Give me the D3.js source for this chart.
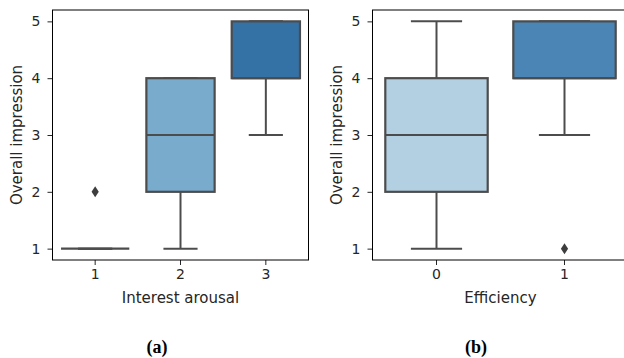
<!DOCTYPE html>
<html>
<head>
<meta charset="utf-8">
<script src="https://cdnjs.cloudflare.com/ajax/libs/d3/7.8.5/d3.min.js"></script>
<style>
  body { margin: 0; background: #fff; }
  svg { display: block; }
  .axis-label { font-family: "DejaVu Sans", sans-serif; font-size: 15px; fill: #262626; }
  .caption { font-family: "Liberation Serif", serif; font-size: 18px; font-weight: bold; fill: #000; }
</style>
</head>
<body>
<div id="chart"></div>
<script>
// panel (a): Interest arousal
const arousalCats = ["1", "2", "3"];
const arousalQ1 = [1, 2, 4];
const arousalMedian = [1, 3, 4];
const arousalQ3 = [1, 4, 5];
const arousalLow = [1, 1, 3];
const arousalHigh = [1, 4, 5];
const arousalOutliers = [[2], [], []];
const arousalColors = ["#d0e1f0", "#79abcd", "#3471a5"];

// panel (b): Efficiency
const efficiencyCats = ["0", "1"];
const efficiencyQ1 = [2, 4];
const efficiencyMedian = [3, 4];
const efficiencyQ3 = [4, 5];
const efficiencyLow = [1, 3];
const efficiencyHigh = [5, 5];
const efficiencyOutliers = [[], [1]];
const efficiencyColors = ["#b3cfe2", "#4a85b5"];

const yTicks = [1, 2, 3, 4, 5];

const svg = d3.select("#chart").append("svg")
  .attr("width", 624)
  .attr("height", 358);

const lineColor = "#4c4c4c";

function styleAxis(axisG) {
  axisG.select(".domain").remove();
  axisG.selectAll(".tick line").attr("stroke", "#262626").attr("stroke-width", 1);
  axisG.selectAll(".tick text")
    .style("font-family", '"DejaVu Sans", sans-serif')
    .style("font-size", "14px")
    .style("fill", "#262626");
}

function boxPanel(offsetX, cats, q1, med, q3, lo, hi, outl, colors, xLabel) {
  const margin = { left: 52.5, top: 10, width: 256, height: 250 };
  const g = svg.append("g").attr("transform", `translate(${offsetX},0)`);

  const x = d3.scaleBand()
    .domain(cats)
    .range([margin.left, margin.left + margin.width])
    .paddingInner(0.2)
    .paddingOuter(0.1);
  const y = d3.scaleLinear()
    .domain([0.8, 5.2])
    .range([margin.top + margin.height, margin.top]);

  const rows = cats.map((c, i) => ({
    cat: c, q1: q1[i], med: med[i], q3: q3[i], lo: lo[i], hi: hi[i],
    out: outl[i], color: colors[i]
  }));

  const bw = x.bandwidth();
  const cx = (d) => x(d.cat) + bw / 2;

  const boxes = g.append("g").selectAll("g").data(rows).join("g");

  // whiskers
  boxes.append("line")
    .attr("x1", cx).attr("x2", cx)
    .attr("y1", (d) => y(d.q1)).attr("y2", (d) => y(d.lo))
    .attr("stroke", lineColor).attr("stroke-width", 2);
  boxes.append("line")
    .attr("x1", cx).attr("x2", cx)
    .attr("y1", (d) => y(d.q3)).attr("y2", (d) => y(d.hi))
    .attr("stroke", lineColor).attr("stroke-width", 2);
  // caps
  boxes.append("line")
    .attr("x1", (d) => cx(d) - bw / 4).attr("x2", (d) => cx(d) + bw / 4)
    .attr("y1", (d) => y(d.lo)).attr("y2", (d) => y(d.lo))
    .attr("stroke", lineColor).attr("stroke-width", 2);
  boxes.append("line")
    .attr("x1", (d) => cx(d) - bw / 4).attr("x2", (d) => cx(d) + bw / 4)
    .attr("y1", (d) => y(d.hi)).attr("y2", (d) => y(d.hi))
    .attr("stroke", lineColor).attr("stroke-width", 2);
  // box
  boxes.append("rect")
    .attr("x", (d) => x(d.cat))
    .attr("width", bw)
    .attr("y", (d) => y(d.q3))
    .attr("height", (d) => y(d.q1) - y(d.q3))
    .attr("fill", (d) => d.color)
    .attr("stroke", lineColor)
    .attr("stroke-width", 2.2);
  // median
  boxes.append("line")
    .attr("x1", (d) => x(d.cat)).attr("x2", (d) => x(d.cat) + bw)
    .attr("y1", (d) => y(d.med)).attr("y2", (d) => y(d.med))
    .attr("stroke", lineColor).attr("stroke-width", 2.2);
  // outliers
  boxes.selectAll("path.outlier")
    .data((d) => d.out.map((v) => ({ v, d })))
    .join("path")
    .attr("class", "outlier")
    .attr("d", (o) => {
      const px = cx(o.d), py = y(o.v);
      return `M${px},${py - 5.5}L${px + 3.6},${py}L${px},${py + 5.5}L${px - 3.6},${py}Z`;
    })
    .attr("fill", "#3d3d3d");

  // axes
  const yAxis = g.append("g")
    .attr("transform", `translate(${margin.left},0)`)
    .call(d3.axisLeft(y).tickValues(yTicks).tickFormat(d3.format("d")).tickSize(5).tickPadding(7));
  styleAxis(yAxis);

  const xAxis = g.append("g")
    .attr("transform", `translate(0,${margin.top + margin.height})`)
    .call(d3.axisBottom(x).tickSize(5).tickPadding(4.5));
  styleAxis(xAxis);

  // frame
  g.append("rect")
    .attr("x", margin.left).attr("y", margin.top)
    .attr("width", margin.width).attr("height", margin.height)
    .attr("fill", "none").attr("stroke", "#000").attr("stroke-width", 1);

  g.append("text")
    .attr("class", "axis-label")
    .attr("x", margin.left + margin.width / 2)
    .attr("y", 303)
    .attr("text-anchor", "middle")
    .text(xLabel);

  g.append("text")
    .attr("class", "axis-label")
    .attr("transform", `translate(21.5,${margin.top + margin.height / 2}) rotate(-90)`)
    .attr("text-anchor", "middle")
    .text("Overall impression");

  return g;
}

boxPanel(0, arousalCats, arousalQ1, arousalMedian, arousalQ3, arousalLow, arousalHigh,
  arousalOutliers, arousalColors, "Interest arousal");
boxPanel(320, efficiencyCats, efficiencyQ1, efficiencyMedian, efficiencyQ3, efficiencyLow,
  efficiencyHigh, efficiencyOutliers, efficiencyColors, "Efficiency");

svg.append("text").attr("class", "caption")
  .attr("x", 157).attr("y", 353).attr("text-anchor", "middle").text("(a)");
svg.append("text").attr("class", "caption")
  .attr("x", 476).attr("y", 353).attr("text-anchor", "middle").text("(b)");
</script>
</body>
</html>
